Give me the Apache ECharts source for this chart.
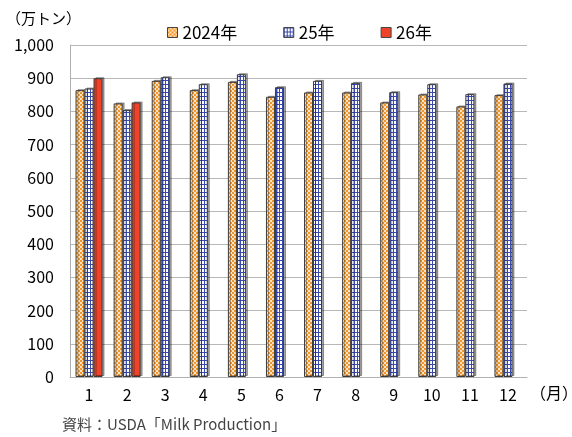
<!DOCTYPE html>
<html>
<head>
<meta charset="utf-8">
<script src="https://cdn.jsdelivr.net/npm/echarts@6/dist/echarts.min.js"></script>
<style>
html,body{margin:0;padding:0;background:#fff;}
#chart{width:572px;height:437px;}
</style>
</head>
<body>
<div id="chart"></div>
<script>
// 米国の生乳生産量（月別、万トン）
const months = ['1','2','3','4','5','6','7','8','9','10','11','12'];
const seriesNames = ['2024年','25年','26年'];
const y2024 = [864, 824, 892, 864, 889, 844, 857, 857, 827, 851, 815, 849];
const y2025 = [869, 804, 903, 882, 912, 873, 892, 886, 858, 882, 852, 884];
const y2026 = [900, 827, null, null, null, null, null, null, null, null, null, null];
const yTicks = [0, 100, 200, 300, 400, 500, 600, 700, 800, 900, 1000];

const FONT = '"Noto Sans CJK JP", "Noto Sans", sans-serif';

// orange checkered fill
function checkerPattern() {
  const c = document.createElement('canvas');
  c.width = 4; c.height = 4;
  const g = c.getContext('2d');
  g.fillStyle = '#fde2bf';
  g.fillRect(0, 0, 4, 4);
  g.fillStyle = '#f2952a';
  g.fillRect(0, 0, 2, 2);
  g.fillRect(2, 2, 2, 2);
  return c;
}
// blue grid fill
function gridPattern() {
  const c = document.createElement('canvas');
  c.width = 3; c.height = 4;
  const g = c.getContext('2d');
  g.fillStyle = '#ffffff';
  g.fillRect(0, 0, 3, 4);
  g.fillStyle = '#3a4aa8';
  g.fillRect(0, 0, 1, 4);
  g.fillRect(0, 0, 3, 1);
  return c;
}

const fills = [
  { image: checkerPattern(), repeat: 'repeat' },
  { image: gridPattern(), repeat: 'repeat' },
  '#ee4328'
];
const values = [y2024, y2025, y2026];

const chart = echarts.init(document.getElementById('chart'), null, { renderer: 'canvas' });

chart.setOption({
  animation: false,
  textStyle: { fontFamily: FONT },
  legend: {
    data: seriesNames.map(n => ({ name: n, icon: 'rect' })),
    left: 162,
    top: 19,
    itemWidth: 10,
    itemHeight: 10,
    itemGap: 46,
    textStyle: { fontSize: 17, color: '#000', fontFamily: FONT },
    itemStyle: { borderColor: '#444', borderWidth: 1 }
  },
  grid: { left: 70, right: 45, top: 45, bottom: 60, containLabel: false },
  xAxis: {
    type: 'category',
    data: months,
    axisLine: { lineStyle: { color: '#b0b0b0', width: 1 } },
    axisTick: { show: false },
    axisLabel: { color: '#000', fontSize: 16, margin: 10, fontFamily: FONT }
  },
  yAxis: {
    type: 'value',
    min: yTicks[0],
    max: yTicks[yTicks.length - 1],
    interval: 100,
    axisLine: { show: true, lineStyle: { color: '#b0b0b0', width: 1 } },
    axisTick: { show: false },
    splitLine: { lineStyle: { color: '#b8b8b8', width: 1 } },
    axisLabel: {
      color: '#000', fontSize: 16, margin: 16, fontFamily: FONT,
      formatter: v => v.toLocaleString('en-US')
    }
  },
  series: seriesNames.map((name, i) => ({
    name,
    type: 'bar',
    data: values[i],
    barWidth: 9,
    barGap: '0%',
    itemStyle: {
      color: fills[i],
      borderColor: '#3a3a3a',
      borderWidth: 1,
      shadowColor: 'rgba(0,0,0,0.35)',
      shadowOffsetX: 2,
      shadowOffsetY: -1,
      shadowBlur: 0
    }
  })),
  graphic: [
    {
      type: 'text', left: 6, top: 11,
      style: { text: '（万トン）', fill: '#000', font: '15px ' + FONT }
    },
    {
      type: 'text', left: 530, top: 385,
      style: { text: '（月）', fill: '#000', font: '16px ' + FONT }
    },
    {
      type: 'text', left: 62, top: 417,
      style: { text: '資料：USDA「Milk Production」', fill: '#444', font: '15px ' + FONT }
    }
  ]
});
</script>
</body>
</html>
